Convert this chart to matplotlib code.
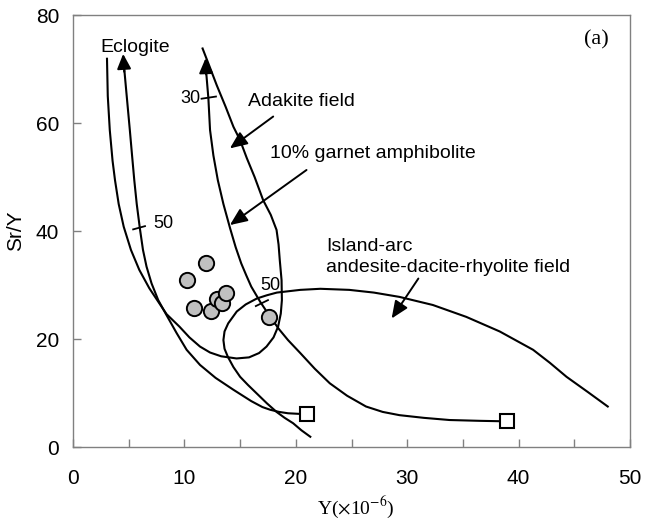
import matplotlib
matplotlib.use("Agg")
import matplotlib.pyplot as plt

plt.rcParams['font.family'] = ['Liberation Sans', 'DejaVu Sans']
plt.rcParams['mathtext.fontset'] = 'stix'

# ---- data ----
sample_y = [11.9, 10.2, 10.85, 12.35, 12.9, 13.4, 13.7, 17.6]
sample_sry = [34.0, 30.9, 25.7, 25.1, 27.5, 26.7, 28.5, 24.1]

# Adakite field boundary (open U)
adakite_x = [3.05, 3.12, 3.3, 3.55, 3.77, 4.1, 4.55, 5.2, 5.95, 6.85, 7.75, 8.4, 9.55, 10.45,
             11.4, 12.3, 13.3, 14.68, 15.8, 16.7, 17.37, 18.0, 18.41, 18.65, 18.75, 18.72,
             18.56, 18.45, 18.27, 17.75, 17.07, 16.3, 15.6, 14.98, 14.4, 13.7, 12.9, 12.25,
             11.63]
adakite_sry = [71.9, 65.0, 58.7, 53.0, 49.4, 45.0, 40.8, 36.5, 32.8, 29.4, 26.6, 24.6, 22.3,
               20.3, 18.6, 17.5, 16.8, 16.4, 16.6, 17.4, 18.6, 20.3, 22.3, 24.7, 27.2, 30.9,
               34.6, 37.5, 40.2, 43.0, 45.7, 50.0, 53.5, 56.9, 59.3, 63.0, 67.0, 70.5, 73.8]

# Eclogite melting curve (from source square up to arrow)
eclogite_x = [21.0, 20.2, 19.3, 18.5, 17.7, 17.0, 16.0, 14.4, 12.8, 11.4, 10.2, 9.3,
              8.4, 7.65, 7.05, 6.6, 6.28, 6.0, 5.72, 5.5, 5.3, 5.1, 4.82, 4.6]
eclogite_sry = [6.1, 6.15, 6.25, 6.5, 6.9, 7.4, 8.5, 10.6, 12.8, 15.2, 18.0, 21.1,
                24.4, 27.2, 30.3, 33.4, 36.5, 40.5, 45.0, 49.4, 54.0, 58.7, 65.0, 70.0]

# 10% garnet amphibolite melting curve
amph_x = [39.0, 36.5, 33.8, 31.5, 29.3, 27.8, 26.3, 24.6, 23.05, 21.7, 20.4, 19.3, 18.5,
          17.7, 16.8, 16.0, 15.55, 15.1, 14.6, 14.1, 13.5, 13.0, 12.6, 12.3, 12.15, 11.95]
amph_sry = [4.75, 4.85, 5.0, 5.4, 5.9, 6.5, 7.5, 9.5, 11.8, 14.5, 17.4, 19.8, 21.8,
            24.1, 26.9, 29.7, 31.8, 34.0, 37.0, 40.5, 45.0, 49.4, 54.0, 58.7, 64.6, 69.5]

# Island-arc andesite-dacite-rhyolite field boundary
arc_x = [21.3, 20.5, 19.76, 19.0, 18.27, 17.4, 16.5, 15.7, 15.0, 14.4, 13.9, 13.6, 13.5,
         13.6, 13.93, 14.7, 15.5, 16.5, 17.4, 18.3, 20.4, 22.2, 24.8, 27.0, 29.3, 32.3,
         35.3, 38.3, 41.3, 42.8, 44.3, 46.2, 48.0]
arc_sry = [1.9, 3.1, 4.4, 5.4, 6.5, 8.1, 9.9, 11.5, 13.0, 14.8, 16.7, 18.2, 19.8,
           21.4, 22.9, 25.1, 26.4, 27.5, 28.1, 28.6, 29.1, 29.3, 29.1, 28.6, 27.8, 26.3,
           24.1, 21.4, 18.0, 15.6, 13.0, 10.2, 7.5]

source_y = [21.0, 39.0]
source_sry = [6.1, 4.75]

xticks = [0, 10, 20, 30, 40, 50]
xminor = [5, 15, 25, 35, 45]
yticks = [0, 20, 40, 60, 80]

# ---- figure ----
fig = plt.figure(figsize=(6.45, 5.21), dpi=100)
ax = fig.add_axes([0.1132, 0.1420, 0.8636, 0.8292])
ax.set_xlim(0, 50)
ax.set_ylim(0, 80)

lw = 1.5
for xs, ys in [(adakite_x, adakite_sry), (eclogite_x, eclogite_sry),
               (amph_x, amph_sry), (arc_x, arc_sry)]:
    ax.plot(xs, ys, color='black', lw=lw, solid_joinstyle='round')

# arrow heads at the tips of the melting curves
head = '-|>,head_length=0.6,head_width=0.28'
ax.annotate('', xy=(4.5, 72.8), xytext=(eclogite_x[-1], eclogite_sry[-1] - 0.5),
            arrowprops=dict(arrowstyle=head, color='black', lw=lw, mutation_scale=15,
                            shrinkA=0, shrinkB=0))
ax.annotate('', xy=(11.9, 72.0), xytext=(amph_x[-1], amph_sry[-1] - 0.5),
            arrowprops=dict(arrowstyle=head, color='black', lw=lw, mutation_scale=15,
                            shrinkA=0, shrinkB=0))

# source squares and samples
ax.plot(source_y, source_sry, linestyle='none', marker='s', ms=9.5, mfc='white',
        mec='black', mew=1.5, zorder=5)
ax.plot(sample_y, sample_sry, linestyle='none', marker='o', ms=11, mfc='#c0c0c0',
        mec='black', mew=1.4, zorder=6)

# melt-fraction ticks on curves
ax.plot([5.4, 6.46], [40.3, 40.9], color='black', lw=1.3)
ax.plot([11.54, 12.83], [64.5, 64.9], color='black', lw=1.3)
ax.plot([16.41, 17.5], [26.1, 27.2], color='black', lw=1.3)
ax.text(7.2, 41.4, '50', fontsize=13, ha='left', va='center')
ax.text(11.4, 64.6, '30', fontsize=13, ha='right', va='center')
ax.text(17.7, 30.0, '50', fontsize=13, ha='center', va='center')

# labels
ax.text(5.57, 74.0, 'Eclogite', fontsize=14, ha='center', va='center')
ax.text(15.7, 63.9, 'Adakite field', fontsize=14, ha='left', va='center')
ax.text(17.65, 54.4, '10% garnet amphibolite', fontsize=14, ha='left', va='center')
ax.text(22.75, 37.1, 'Island-arc', fontsize=14, ha='left', va='center')
ax.text(22.75, 33.2, 'andesite-dacite-rhyolite field', fontsize=14, ha='left', va='center')
ax.text(47.0, 75.4, '(a)', fontsize=16, ha='center', va='center', family='Liberation Serif')

ann = '-|>,head_length=0.7,head_width=0.3'
for tip, tail in [((14.08, 55.3), (17.97, 61.2)),
                  ((14.08, 41.1), (20.96, 51.3)),
                  ((28.6, 23.8), (31.0, 31.2))]:
    ax.annotate('', xy=tip, xytext=tail,
                arrowprops=dict(arrowstyle=ann, color='black', lw=1.4, mutation_scale=15,
                                shrinkA=0, shrinkB=0))

# axes styling
frame_c = '#808080'
for s in ax.spines.values():
    s.set_color(frame_c)
    s.set_linewidth(1.0)
ax.set_xticks(xticks)
ax.set_xticks(xminor, minor=True)
ax.set_yticks(yticks)
ax.tick_params(axis='x', which='both', direction='in', length=6, width=1.0, color=frame_c,
               labelsize=15, pad=16)
ax.tick_params(axis='y', which='both', direction='in', length=6, width=1.0, color=frame_c,
               labelsize=15, pad=10)

ax.text(-0.104, 0.5, 'Sr/Y', transform=ax.transAxes, rotation=90, fontsize=15,
        ha='center', va='center')
ax.text(0.508, -0.14, r'Y($\times$10$^{-6}$)', transform=ax.transAxes, fontsize=14,
        ha='center', va='center', family='Liberation Serif')

fig.savefig('out.png', dpi=100)
